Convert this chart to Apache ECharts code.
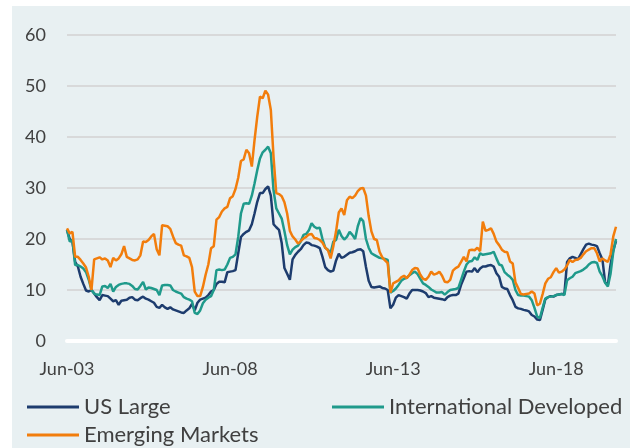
<!DOCTYPE html>
<html>
<head>
<meta charset="utf-8">
<script src="https://cdn.jsdelivr.net/npm/echarts@6/dist/echarts.min.js"></script>
<style>
  html, body { margin: 0; padding: 0; background: #ffffff; }
  #chart { position: absolute; left: 12px; top: 6px; width: 618px; height: 442px; }
</style>
</head>
<body>
<div id="chart"></div>
<script>
// Trailing volatility (%) by month, Jun-03 through Apr-20
const startYear = 2003, startMonth = 5; // June
const monthNames = ['Jan','Feb','Mar','Apr','May','Jun','Jul','Aug','Sep','Oct','Nov','Dec'];
const tickLabels = ['Jun-03', 'Jun-08', 'Jun-13', 'Jun-18'];
const yTicks = [0, 10, 20, 30, 40, 50, 60];

const usLarge = [
  21.8, 20.0, 19.5, 15.5, 14.6, 12.6, 11.2, 9.9, 9.7, 10.0,
  9.3, 8.6, 8.0, 9.0, 8.9, 8.8, 8.3, 7.8, 8.0, 7.1,
  7.9, 8.0, 8.1, 8.5, 8.6, 8.1, 8.0, 8.4, 8.7, 8.3,
  8.1, 7.8, 7.5, 6.7, 6.5, 7.1, 6.6, 6.3, 6.6, 6.2,
  6.0, 5.8, 5.6, 5.5, 6.0, 6.4, 7.3, 6.0, 7.5, 8.1,
  8.3, 8.5, 9.0, 9.7, 10.0, 11.2, 11.6, 11.6, 11.5, 13.5,
  13.6, 13.7, 13.9, 17.2, 20.4, 21.0, 21.4, 21.7, 22.9, 25.0,
  27.3, 29.0, 29.0, 29.8, 30.3, 28.5, 22.9, 22.3, 21.8, 19.2,
  14.3, 13.2, 12.0, 16.0, 16.9, 17.5, 18.0, 18.8, 19.3, 19.2,
  18.8, 18.7, 18.5, 18.2, 16.5, 14.5, 13.9, 13.6, 13.8, 15.8,
  17.1, 16.3, 16.5, 16.9, 17.3, 17.4, 17.6, 17.9, 18.0, 17.6,
  14.5, 11.8, 10.6, 10.5, 10.6, 10.7, 10.4, 10.3, 10.0, 6.4,
  7.1, 8.5, 9.0, 8.8, 8.6, 8.3, 9.3, 10.0, 10.0, 10.0,
  9.9, 9.7, 9.4, 8.6, 8.8, 8.5, 8.4, 8.3, 8.2, 8.0,
  8.6, 8.9, 9.0, 9.0, 9.3, 11.0, 12.3, 13.6, 13.7, 13.6,
  14.3, 13.5, 14.2, 14.6, 14.6, 14.8, 14.9, 14.6, 13.3, 12.6,
  10.6, 10.3, 10.2, 9.0, 8.0, 6.7, 6.4, 6.3, 6.1, 6.0,
  5.8, 5.1, 4.8, 4.2, 4.1, 6.1, 8.2, 8.6, 8.8, 8.7,
  9.0, 9.1, 9.2, 9.2, 15.5, 16.2, 16.5, 16.3, 16.0, 17.0,
  18.0, 18.9, 19.1, 18.9, 18.8, 18.6, 17.2, 16.0, 11.5, 11.0,
  15.0, 17.8, 19.6
];

const intlDeveloped = [
  21.8, 19.5, 19.8, 14.9, 14.9, 14.6, 14.2, 13.5, 12.0, 10.0,
  9.3, 9.1, 9.0, 10.7, 10.8, 10.4, 11.2, 9.7, 10.6, 11.0,
  11.2, 11.3, 11.3, 11.2, 10.8, 10.2, 10.1, 10.8, 11.6, 10.1,
  10.5, 10.4, 10.2, 10.0, 9.0, 10.9, 11.0, 11.0, 10.9, 10.0,
  9.7, 9.5, 9.3, 8.6, 8.3, 8.1, 7.8, 5.5, 5.3, 6.0,
  7.4, 8.1, 8.5, 8.8, 10.0, 13.9, 14.0, 13.9, 14.0, 15.0,
  16.3, 16.5, 17.0, 20.4, 25.0, 26.9, 27.0, 26.9, 28.5, 30.9,
  33.5, 35.8, 37.0, 37.5, 38.1, 36.8, 29.5, 26.0, 25.0, 24.0,
  21.5, 18.8, 17.0, 17.9, 18.4, 18.7, 19.5, 20.8, 21.0, 21.7,
  23.1, 22.4, 22.1, 22.2, 20.0, 18.3, 17.9, 17.3, 19.5, 19.8,
  21.8, 20.6, 19.9, 20.4, 21.4, 20.8, 20.0, 22.5, 24.1, 23.5,
  20.0, 18.3, 17.2, 16.9, 16.6, 16.3, 16.2, 16.1, 15.9, 9.5,
  9.8, 10.3, 11.0, 11.8, 12.2, 12.4, 12.9, 13.3, 13.6, 13.1,
  12.2, 11.3, 11.0, 10.6, 10.1, 9.8, 9.5, 9.5, 9.6, 9.1,
  9.6, 10.0, 10.1, 10.2, 10.4, 12.0, 13.6, 15.0, 15.6, 15.7,
  16.4, 15.9, 17.2, 16.9, 17.0, 17.1, 17.2, 17.5, 16.2, 15.0,
  14.8, 13.5, 13.0, 12.6, 12.0, 10.0, 9.0, 8.9, 8.9, 8.8,
  8.7, 8.0, 6.5, 4.8, 4.5, 6.5, 8.3, 8.6, 8.7, 8.8,
  9.0, 9.1, 9.2, 9.0, 11.9, 12.3, 12.6, 13.3, 13.5, 13.7,
  14.0, 14.4, 15.0, 15.4, 15.5, 15.3, 13.6, 12.7, 11.4, 10.7,
  13.2, 17.5, 20.0
];

const emergingMarkets = [
  22.1, 21.1, 21.4, 16.5, 16.5, 15.9, 15.2, 14.4, 12.6, 10.0,
  16.0, 16.2, 16.4, 16.0, 16.2, 15.8, 14.5, 16.3, 15.8, 16.2,
  17.0, 18.6, 16.5, 16.2, 15.9, 15.8, 16.0, 16.8, 19.5, 19.4,
  19.8, 20.5, 21.0, 18.0, 16.8, 22.7, 22.6, 22.5, 22.0, 20.5,
  19.2, 18.9, 18.7, 16.8, 16.6, 16.3, 14.5, 9.7, 8.8, 8.8,
  10.6, 13.0, 15.0, 18.2, 18.6, 23.8, 24.3, 25.4, 26.0, 26.3,
  28.0, 28.4, 29.8, 32.0, 35.3, 35.6, 37.5, 36.8, 34.2, 39.4,
  44.0, 47.9, 47.6, 49.1, 48.3, 45.3, 36.0, 29.0, 28.8, 28.4,
  27.2, 25.0, 21.6, 20.5, 19.9, 19.1, 19.6, 20.1, 20.4, 20.9,
  21.0, 20.2, 20.1, 19.8, 19.3, 18.3, 17.8, 16.2, 18.6, 21.5,
  25.2, 26.0, 24.7, 27.6, 28.3, 28.0, 28.5, 29.4, 29.9, 30.0,
  28.5, 24.5, 21.5, 20.0, 19.8, 17.5, 16.4, 15.8, 15.3, 9.5,
  11.3, 11.6, 11.9, 12.5, 12.8, 12.3, 13.0, 13.9, 14.3, 14.2,
  13.0, 12.2, 12.0, 12.6, 13.6, 13.0, 13.2, 13.6, 12.8, 11.6,
  11.5, 12.0, 13.8, 14.3, 14.6, 15.5, 16.5, 15.6, 17.8, 17.9,
  17.8, 18.3, 17.6, 23.4, 21.6, 21.8, 22.1, 21.0, 19.5, 18.8,
  17.9, 17.5, 17.4, 15.6, 15.2, 11.5, 10.4, 9.2, 9.1, 9.2,
  9.3, 9.7, 9.3, 7.0, 7.3, 9.2, 11.3, 12.2, 12.5, 13.5,
  14.3, 13.4, 13.6, 14.0, 14.8, 15.9, 15.5, 15.9, 16.0, 16.3,
  17.0, 17.6, 17.9, 18.2, 18.2, 17.2, 15.6, 16.2, 15.8, 15.5,
  17.0, 20.5, 22.4
];

// Month labels such as "Jun-03"
const categories = usLarge.map(function (_, i) {
  const m = (startMonth + i) % 12;
  const y = startYear + Math.floor((startMonth + i) / 12);
  return monthNames[m] + '-' + String(y % 100).padStart(2, '0');
});

const seriesColors = ['#1d3c6e', '#1f9a8b', '#f27d0c'];
const textColor = '#404040';
const fontFamily = 'Lato, "Open Sans", sans-serif';
const axisFontSize = 18;
const legendFontSize = 22;

const chart = echarts.init(document.getElementById('chart'), null, { renderer: 'canvas' });

function legendAt(name, color, left, top) {
  return {
    data: [{ name: name, itemStyle: { color: color } }],
    left: left, top: top,
    padding: 0,
    icon: 'rect',
    itemWidth: 52, itemHeight: 3,
    textStyle: { color: textColor, fontSize: legendFontSize, fontFamily: fontFamily },
    selectedMode: false
  };
}

chart.setOption({
  backgroundColor: '#e8f0f2',
  animation: false,
  grid: { left: 55, right: 14, top: 29, bottom: 107 },
  legend: [
    legendAt('US Large', seriesColors[0], 15, 390),
    legendAt('International Developed', seriesColors[1], 320, 390),
    legendAt('Emerging Markets', seriesColors[2], 15, 418)
  ],
  xAxis: {
    type: 'category',
    data: categories,
    boundaryGap: false,
    axisLine: { show: true, lineStyle: { color: '#ffffff', width: 4 } },
    axisTick: { show: false },
    splitLine: { show: false },
    axisLabel: {
      color: textColor, fontSize: axisFontSize, fontFamily: fontFamily, margin: 19,
      interval: function (index, value) { return tickLabels.indexOf(value) !== -1; }
    }
  },
  yAxis: {
    type: 'value',
    min: yTicks[0], max: yTicks[yTicks.length - 1], interval: 10,
    axisLine: { show: false },
    axisTick: { show: false },
    axisLabel: { color: textColor, fontSize: axisFontSize, fontFamily: fontFamily, margin: 21 },
    splitLine: { lineStyle: { color: '#d8d9da', width: 2 } }
  },
  series: [
    { name: 'US Large', type: 'line', data: usLarge },
    { name: 'International Developed', type: 'line', data: intlDeveloped },
    { name: 'Emerging Markets', type: 'line', data: emergingMarkets }
  ].map(function (s, k) {
    return Object.assign(s, {
      showSymbol: false,
      symbol: 'none',
      color: seriesColors[k],
      lineStyle: { width: 2.5, color: seriesColors[k] }
    });
  })
});
</script>
</body>
</html>
